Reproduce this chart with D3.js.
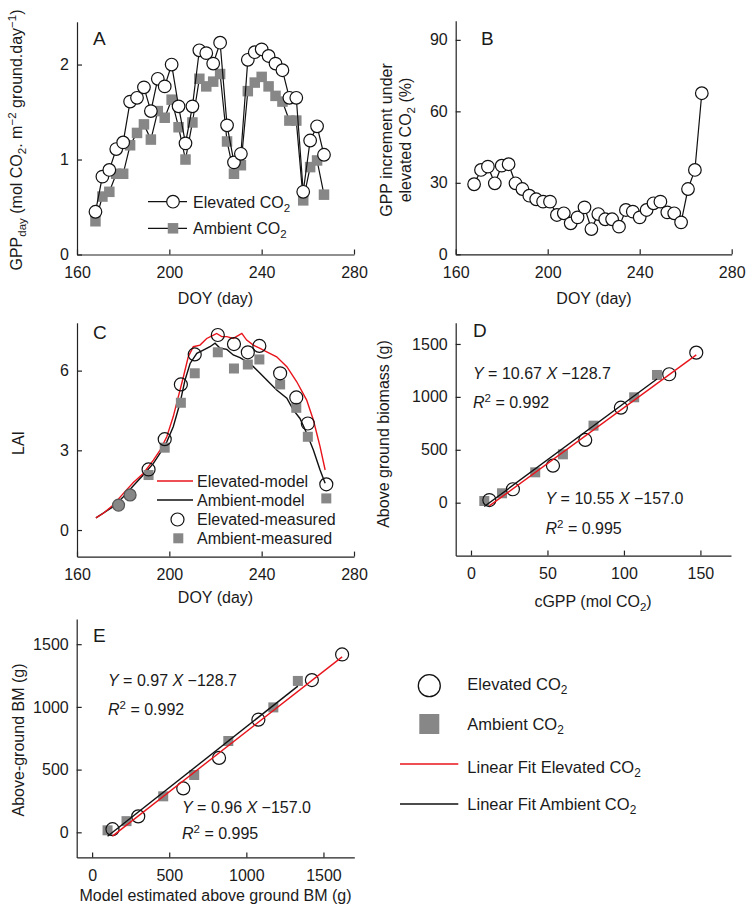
<!DOCTYPE html>
<html><head><meta charset="utf-8">
<script src="https://cdn.jsdelivr.net/npm/d3@7"></script>
<style>body{margin:0;background:#fff}svg{display:block}</style>
</head><body>
<svg id="c" width="747" height="908"></svg>
<script>
// ---------------- DATA ----------------
const doy = [168,171,174,177,180,183,186,189,192,195,198,201,204,207,210,213,216,219,222,225,228,231,234,237,240,243,246,249,252,255,258,261,264,267];
const gppElevated = [0.45,0.82,0.89,1.11,1.18,1.61,1.65,1.76,1.51,1.85,1.77,2.00,1.56,1.17,1.56,2.15,2.12,2.01,2.23,1.36,0.97,1.06,2.05,2.13,2.16,2.09,2.01,1.94,1.65,1.65,0.66,1.20,1.35,1.05];
const gppAmbient = [0.35,0.61,0.66,0.85,0.85,1.15,1.28,1.37,1.21,1.51,1.44,1.63,1.34,1.00,1.39,1.85,1.77,1.82,1.90,1.19,0.85,0.94,1.72,1.81,1.87,1.77,1.67,1.61,1.41,1.41,0.57,0.92,0.99,0.63];
const gppIncrement = [29.4,35.4,36.8,29.8,37.2,37.8,29.8,27.4,24.6,23.1,22.1,22.1,16.5,17.2,13.0,15.5,19.7,10.6,16.9,14.7,14.7,11.6,18.6,17.9,15.5,18.6,21.4,22.1,17.6,17.2,13.4,27.4,35.4,67.6];

const elevModelDoy = [168.2,171.4,175.7,180.1,184.4,188.7,193.1,196,198.9,201.7,203.9,206.1,208.2,210.4,213.3,216.2,219.1,220.5,222.7,224.9,227.7,231.4,233.5,236.4,239.3,242.2,246.5,250.9,255.2,259.5,262.4,265.3,267.5];
const laiElevModel = [0.46,0.63,0.94,1.38,1.79,2.13,2.63,3.01,3.51,4.27,5.02,5.77,6.52,6.90,6.96,7.21,7.34,7.40,7.28,7.28,7.21,7.40,7.15,6.96,6.84,6.71,6.52,6.15,5.58,4.89,4.14,3.14,2.26];
const ambModelDoy = [168.2,175.7,180.1,184.4,188.7,193.1,196,198.9,201.7,204.6,206.8,209,211.9,214.7,217.6,219.8,222,224.9,227.7,230.6,233.5,236.4,239.3,242.2,246.5,250.9,253.7,256.6,259.5,262.4,265.3,267.5];
const laiAmbModel = [0.46,0.88,1.25,1.67,2.07,2.51,2.89,3.32,3.89,4.77,5.65,6.27,6.65,6.77,6.90,7.03,6.84,6.80,6.59,6.49,6.34,6.15,5.90,5.65,5.27,4.96,4.52,4.20,3.64,3.01,2.26,1.76];
const laiMeasDoy = [191,198,205,211,221,228,234,239,248,255,260,268];
const laiElevMeas = [2.28,3.42,5.48,6.61,7.34,7.00,6.69,6.93,5.90,4.99,4.01,1.72];
const laiAmbMeas = [2.07,3.10,4.79,5.90,6.69,6.08,6.23,6.42,5.48,4.60,3.51,1.19];
const laiEarlyDoy = [178,183];
const laiEarlyMeas = [0.94,1.32];

const cgppElev = [12.0,27.4,53.6,74.7,98.0,129.6,147.3];
const cgppAmb = [8.7,20.3,42.0,60.1,80.1,106.7,121.6];
const biomassElev = [25,127,350,593,898,1214,1418];
const biomassAmb = [16,89,287,457,728,996,1207];
const modelBmElev = [132,299,591,823,1078,1425,1621];
const modelBmAmb = [100,223,461,662,883,1175,1334];

const fitD = {elev:[10.55,-157.0], amb:[10.67,-128.7]};
const fitE = {elev:[0.96,-157.0], amb:[0.97,-128.7]};
const eqD = [["10.67","128.7","0.992"],["10.55","157.0","0.995"]];
const eqE = [["0.97","128.7","0.992"],["0.96","157.0","0.995"]];

const doyTicks = [160,200,240,280];
const gppTicks = [0,1,2];
const incTicks = [0,30,60,90];
const laiTicks = [0,3,6];
const cgppTicks = [0,50,100,150];
const bmTicks = [0,500,1000,1500];

// ---------------- DRAW ----------------
const FONT = "'Liberation Sans', Arial, Helvetica, sans-serif";
const GRAY = "#878787", RED = "#e8141b";
const svg = d3.select("#c").attr("font-family", FONT);

function axes(x, y, xt, yt, fmtx) {
  const g = svg.append("g");
  const gx = g.append("g").attr("transform", `translate(0,${y.range()[0]})`)
    .call(d3.axisBottom(x).tickValues(xt).tickSizeInner(-5).tickSizeOuter(0).tickPadding(12).tickFormat(d3.format("d")));
  const gy = g.append("g").attr("transform", `translate(${x.range()[0]},0)`)
    .call(d3.axisLeft(y).tickValues(yt).tickSizeInner(-5).tickSizeOuter(0).tickPadding(8).tickFormat(d3.format("d")));
  [gx, gy].forEach(a => {
    a.attr("font-size", 16).attr("font-family", FONT);
    a.selectAll("path,line").attr("stroke", "#222").attr("stroke-width", 1.2);
    a.selectAll("text").attr("fill", "#1a1a1a");
  });
}

function rich(sel, parts) {
  let shift = 0;
  parts.forEach(p => {
    const target = p.sub ? 4 : p.sup ? -6 : 0;
    const ts = sel.append("tspan").text(p.t).attr("dy", target - shift);
    if (p.sub || p.sup) ts.attr("font-size", "0.72em");
    if (p.i) ts.attr("font-style", "italic");
    shift = target;
  });
}

function text(x, y, parts, opts = {}) {
  const t = svg.append("text").attr("x", x).attr("y", y)
    .attr("font-size", opts.size || 16).attr("fill", "#1a1a1a")
    .attr("text-anchor", opts.anchor || "start");
  if (opts.rot) t.attr("transform", `rotate(-90,${x},${y})`);
  rich(t, typeof parts === "string" ? [{t: parts}] : parts);
  return t;
}

function circles(data, x, y, r, fill, stroke) {
  svg.append("g").selectAll("circle").data(data).join("circle")
    .attr("cx", d => x(d[0])).attr("cy", d => y(d[1])).attr("r", r)
    .attr("fill", fill).attr("stroke", stroke).attr("stroke-width", 1.2);
}
function squares(data, x, y, s) {
  svg.append("g").selectAll("rect").data(data).join("rect")
    .attr("x", d => x(d[0]) - s / 2).attr("y", d => y(d[1]) - s / 2)
    .attr("width", s).attr("height", s).attr("fill", GRAY);
}
function path(data, x, y, color, w) {
  svg.append("path").datum(data).attr("fill", "none").attr("stroke", color)
    .attr("stroke-width", w).attr("d", d3.line().x(d => x(d[0])).y(d => y(d[1])));
}
const zip = (a, b) => a.map((v, i) => [v, b[i]]);

// ---- Panel A ----
{
  const x = d3.scaleLinear().domain([160, 280]).range([77, 354]);
  const y = d3.scaleLinear().domain([0, 2.45]).range([254.5, 21.8]);
  axes(x, y, doyTicks, gppTicks);
  const amb = zip(doy, gppAmbient), ele = zip(doy, gppElevated);
  path(amb, x, y, "#111", 1.2);
  squares(amb, x, y, 10.5);
  path(ele, x, y, "#111", 1.2);
  circles(ele, x, y, 6.3, "#fff", "#111");
  text(93, 45, "A", {size: 19});
  // legend
  svg.append("line").attr("x1", 148).attr("x2", 187).attr("y1", 201.7).attr("y2", 201.7).attr("stroke", "#111").attr("stroke-width", 1.2);
  svg.append("circle").attr("cx", 173).attr("cy", 201.7).attr("r", 6.3).attr("fill", "#fff").attr("stroke", "#111").attr("stroke-width", 1.2);
  svg.append("line").attr("x1", 148).attr("x2", 187).attr("y1", 228.3).attr("y2", 228.3).attr("stroke", "#111").attr("stroke-width", 1.2);
  svg.append("rect").attr("x", 173 - 5.25).attr("y", 228.3 - 5.25).attr("width", 10.5).attr("height", 10.5).attr("fill", GRAY);
  text(193, 207.5, [{t: "Elevated CO"}, {t: "2", sub: true}]);
  text(193, 234, [{t: "Ambient CO"}, {t: "2", sub: true}]);
  text(215.5, 304, "DOY (day)", {anchor: "middle"});
  text(22, 140, [{t: "GPP"}, {t: "day", sub: true}, {t: " (mol CO"}, {t: "2", sub: true}, {t: ". m"}, {t: "−2", sup: true}, {t: " ground.day"}, {t: "−1", sup: true}, {t: ")"}], {anchor: "middle", rot: true});
}

// ---- Panel B ----
{
  const x = d3.scaleLinear().domain([160, 280]).range([455.7, 731.7]);
  const y = d3.scaleLinear().domain([0, 98]).range([254.3, 20.8]);
  axes(x, y, doyTicks, incTicks);
  const d = zip(doy, gppIncrement);
  path(d, x, y, "#111", 1.2);
  circles(d, x, y, 6.3, "#fff", "#111");
  text(481, 45, "B", {size: 19});
  text(594, 304, "DOY (day)", {anchor: "middle"});
  text(392, 140, "GPP increment under", {anchor: "middle", rot: true});
  text(411, 140, [{t: "elevated CO"}, {t: "2", sub: true}, {t: " (%)"}], {anchor: "middle", rot: true});
}

// ---- Panel C ----
{
  const x = d3.scaleLinear().domain([160, 280]).range([77, 354]);
  const y = d3.scaleLinear().domain([-1, 7.8]).range([556.6, 322.8]);
  axes(x, y, doyTicks, laiTicks);
  path(zip(ambModelDoy, laiAmbModel), x, y, "#111", 1.4);
  path(zip(elevModelDoy, laiElevModel), x, y, RED, 1.4);
  squares(zip(laiMeasDoy, laiAmbMeas), x, y, 10);
  circles(zip(laiMeasDoy, laiElevMeas), x, y, 6.5, "none", "#111");
  circles(zip(laiEarlyDoy, laiEarlyMeas), x, y, 6, GRAY, "#555");
  text(93, 339, "C", {size: 19});
  svg.append("line").attr("x1", 157).attr("x2", 193).attr("y1", 481).attr("y2", 481).attr("stroke", RED).attr("stroke-width", 1.4);
  svg.append("line").attr("x1", 157).attr("x2", 193).attr("y1", 500).attr("y2", 500).attr("stroke", "#111").attr("stroke-width", 1.4);
  svg.append("circle").attr("cx", 177.5).attr("cy", 519.5).attr("r", 6.5).attr("fill", "none").attr("stroke", "#111").attr("stroke-width", 1.2);
  svg.append("rect").attr("x", 178.3 - 5).attr("y", 538.3 - 5).attr("width", 10).attr("height", 10).attr("fill", GRAY);
  text(197, 487, "Elevated-model");
  text(197, 506, "Ambient-model");
  text(197, 525, "Elevated-measured");
  text(197, 544, "Ambient-measured");
  text(215.5, 603, "DOY (day)", {anchor: "middle"});
  text(24, 443, "LAI", {anchor: "middle", rot: true});
}

function eqText(x, y1, y2, e) {
  text(x, y1, [{t: "Y", i: true}, {t: " = " + e[0] + " "}, {t: "X", i: true}, {t: " −" + e[1]}]);
  text(x, y2, [{t: "R", i: true}, {t: "2", sup: true}, {t: " = " + e[2]}]);
}

// ---- Panel D ----
{
  const x = d3.scaleLinear().domain([-10, 170]).range([455.7, 731]);
  const y = d3.scaleLinear().domain([-500, 1700]).range([555.6, 322.8]);
  axes(x, y, cgppTicks, bmTicks);
  squares(zip(cgppAmb, biomassAmb), x, y, 10);
  circles(zip(cgppElev, biomassElev), x, y, 6.5, "none", "#111");
  const ea = d3.extent(cgppAmb), ee = d3.extent(cgppElev);
  path(ea.map(v => [v, fitD.amb[0] * v + fitD.amb[1]]), x, y, "#111", 1.4);
  path(ee.map(v => [v, fitD.elev[0] * v + fitD.elev[1]]), x, y, RED, 1.4);
  text(473, 337, "D", {size: 19});
  eqText(473, 379, 407.5, eqD[0]);
  eqText(545.5, 504, 534, eqD[1]);
  text(593, 607, [{t: "cGPP (mol CO"}, {t: "2", sub: true}, {t: ")"}], {anchor: "middle"});
  text(389, 434, "Above ground biomass (g)", {anchor: "middle", rot: true});
}

// ---- Panel E ----
{
  const x = d3.scaleLinear().domain([-100, 1700]).range([76.7, 354.3]);
  const y = d3.scaleLinear().domain([-200, 1700]).range([857.4, 619.1]);
  axes(x, y, bmTicks, bmTicks);
  squares(zip(modelBmAmb, biomassAmb), x, y, 10);
  circles(zip(modelBmElev, biomassElev), x, y, 6.5, "none", "#111");
  const ea = d3.extent(modelBmAmb), ee = d3.extent(modelBmElev);
  path(ea.map(v => [v, fitE.amb[0] * v + fitE.amb[1]]), x, y, "#111", 1.4);
  path(ee.map(v => [v, fitE.elev[0] * v + fitE.elev[1]]), x, y, RED, 1.4);
  text(93, 642, "E", {size: 19});
  eqText(108, 686, 715, eqE[0]);
  eqText(182, 813, 839, eqE[1]);
  text(215.5, 901, "Model estimated above ground BM (g)", {anchor: "middle"});
  text(23.5, 740, "Above-ground BM (g)", {anchor: "middle", rot: true});
}

// ---- Bottom legend ----
{
  svg.append("circle").attr("cx", 429.3).attr("cy", 685.7).attr("r", 11).attr("fill", "none").attr("stroke", "#111").attr("stroke-width", 1.3);
  svg.append("rect").attr("x", 429.3 - 10).attr("y", 724 - 10).attr("width", 20).attr("height", 20).attr("fill", GRAY);
  svg.append("line").attr("x1", 400).attr("x2", 458.3).attr("y1", 764).attr("y2", 764).attr("stroke", RED).attr("stroke-width", 1.3);
  svg.append("line").attr("x1", 400).attr("x2", 458.3).attr("y1", 804).attr("y2", 804).attr("stroke", "#111").attr("stroke-width", 1.3);
  const o = {size: 16.5};
  text(467.3, 689.5, [{t: "Elevated CO"}, {t: "2", sub: true}], o);
  text(467.3, 729.5, [{t: "Ambient CO"}, {t: "2", sub: true}], o);
  text(467.3, 772.5, [{t: "Linear Fit Elevated CO"}, {t: "2", sub: true}], o);
  text(467.3, 810, [{t: "Linear Fit Ambient CO"}, {t: "2", sub: true}], o);
}
</script>
</body></html>
